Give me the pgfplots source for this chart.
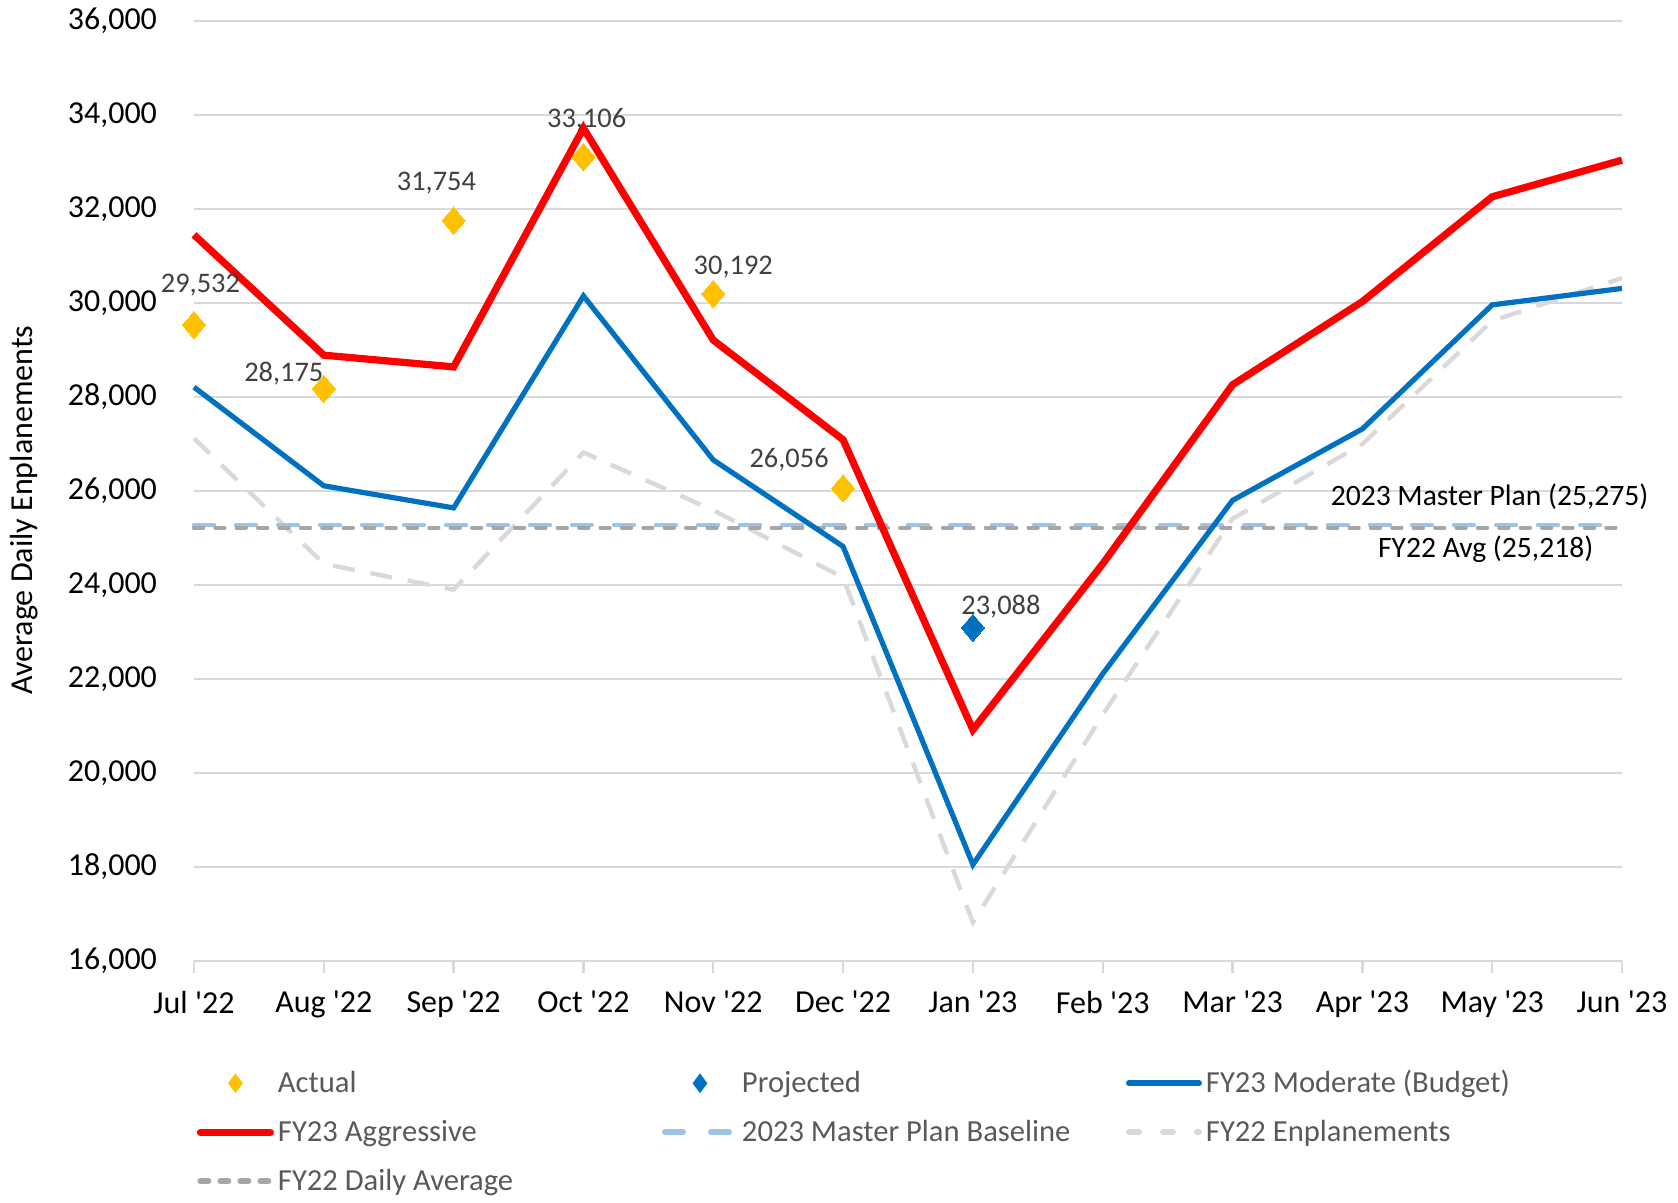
\documentclass[border=0pt]{standalone}
\usepackage{pgfplots}
\pgfplotsset{compat=1.18}
\usepackage{fontspec}
\setmainfont{Carlito}
\definecolor{cRed}{HTML}{FF0000}
\definecolor{cBlue}{HTML}{0070C0}
\definecolor{cYellow}{HTML}{FFC000}
\definecolor{cLBlue}{HTML}{9DC3E6}
\definecolor{cGray}{HTML}{A6A6A6}
\definecolor{cLGray}{HTML}{D9D9D9}
\definecolor{cGrid}{HTML}{D9D9D9}
\definecolor{cLab}{HTML}{404040}
\definecolor{cLeg}{HTML}{595959}
\newcommand{\q}{\textquotesingle}
\newcommand{\lentry}[1]{\makebox[190pt][l]{#1}}
\pgfplotstableread{
x red blue fy
0 31450 28210 27120
1 28890 26110 24450
2 28640 25640 23900
3 33720 30150 26820
4 29210 26660 25590
5 27090 24820 24160
6 20920 18050 16820
7 24450 22110 21240
8 28260 25800 25410
9 30030 27320 27000
10 32260 29960 29620
11 33040 30310 30530
}\series
\pgfplotstableread{
x y
0 29532
1 28175
2 31754
3 33106
4 30192
5 26056
}\actual
\pgfplotstableread{
x y
6 23088
}\projected
\pgfplotstableread{
x mp avg
0 25275 25218
11 25275 25218
}\flat
\begin{document}
\begin{tikzpicture}
\useasboundingbox (-97pt,-121pt) rectangle (742pt,480.5pt);
\begin{axis}[
  scale only axis, width=714pt, height=470pt,
  xmin=0, xmax=11, ymin=16000, ymax=36000,
  clip=false,
  axis x line*=bottom, axis y line*=left,
  y axis line style={draw=none},
  x axis line style={draw=cGrid, line width=1.2pt, -},
  ytick={16000,18000,...,36000},
  ytick style={draw=none},
  xtick={0,...,11},
  xtick style={draw=cGrid, line width=1.2pt},
  tick align=outside,
  major tick length=6pt,
  xticklabels={Jul \q22, Aug \q22, Sep \q22, Oct \q22, Nov \q22, Dec \q22, Jan \q23, Feb \q23, Mar \q23, Apr \q23, May \q23, Jun \q23},
  ymajorgrids,
  grid style={draw=cGrid, line width=0.9pt},
  /pgf/number format/assume math mode=true,
  /pgf/number format/.cd, 1000 sep={,}, /pgfplots/.cd,
  scaled y ticks=false,
  tick label style={font=\fontsize{16}{19}\selectfont, text=black},
  yticklabel style={xshift=-9pt},
  xticklabel style={yshift=-5.5pt},
  ylabel={Average Daily Enplanements},
  every axis y label/.style={at={([xshift=-85pt,yshift=-9.6pt]axis description cs:0,0.5)}, rotate=90, anchor=center, font=\fontsize{16}{19}\selectfont, text=black},
  legend columns=3,
  legend cell align=left,
  legend style={at={(axis description cs:0,0)}, anchor=north west, xshift=-1.8pt, yshift=-50.6pt,
    draw=none, fill=none, font=\fontsize{15.3}{18}\selectfont, text=cLeg, row sep=8.2pt,
    /tikz/every even column/.append style={column sep=0pt}},
  legend image code/.code={\draw[#1] (0pt,0pt) -- (35pt,0pt);},
]
% draw order
\addplot[forget plot, cLGray, line width=2.2pt, dash pattern=on 11pt off 8pt] table[x=x,y=fy]{\series};
\addplot[forget plot, cLBlue, line width=2.2pt, line cap=round, dash pattern=on 10pt off 11pt] table[x=x,y=mp]{\flat};
\addplot[forget plot, cGray, line width=2.2pt, line cap=round, dash pattern=on 4.5pt off 6.2pt] table[x=x,y=avg]{\flat};
\addplot[forget plot, cBlue, line width=2.6pt] table[x=x,y=blue]{\series};
\addplot[forget plot, cRed, line width=3.6pt] table[x=x,y=red]{\series};
\addplot[forget plot, only marks, mark=diamond*, mark size=6.8pt, mark options={fill=cYellow, draw=cYellow, line width=0pt, xscale=1.13}] table[x=x,y=y]{\actual};
\addplot[forget plot, only marks, mark=diamond*, mark size=6.8pt, mark options={fill=cBlue, draw=cBlue, line width=0pt, xscale=1.13}] table[x=x,y=y]{\projected};
% legend
\addlegendimage{legend image code/.code={\draw[cYellow, fill=cYellow] plot[mark=diamond*, mark size=4.6pt, only marks] coordinates {(17.5pt,0pt)};}}
\addlegendentry{\lentry{Actual}}
\addlegendimage{legend image code/.code={\draw[cBlue, fill=cBlue] plot[mark=diamond*, mark size=4.6pt, only marks] coordinates {(17.5pt,0pt)};}}
\addlegendentry{\lentry{Projected}}
\addlegendimage{cBlue, line width=3pt, line cap=round}
\addlegendentry{FY23 Moderate (Budget)}
\addlegendimage{cRed, line width=3.6pt, line cap=round}
\addlegendentry{\lentry{FY23 Aggressive}}
\addlegendimage{cLBlue, line width=3pt, line cap=round, dash pattern=on 9pt off 14pt}
\addlegendentry{\lentry{2023 Master Plan Baseline}}
\addlegendimage{cLGray, line width=3pt, line cap=round, dash pattern=on 5pt off 12pt}
\addlegendentry{FY22 Enplanements}
\addlegendimage{cGray, line width=3pt, line cap=round, dash pattern=on 4pt off 6pt}
\addlegendentry{\lentry{FY22 Daily Average}}
% data labels
\begin{scope}[every node/.style={font=\fontsize{14.2}{17}\selectfont, text=cLab}]
\node at (axis cs:0,29532) [xshift=3.2pt, yshift=20pt] {29,532};
\node at (axis cs:1,28175) [xshift=-20pt, yshift=7.5pt] {28,175};
\node at (axis cs:2,31754) [xshift=-8.6pt, yshift=18.5pt] {31,754};
\node at (axis cs:3,33106) [xshift=1.6pt, yshift=18.5pt] {33,106};
\node at (axis cs:4,30192) [xshift=10pt, yshift=13.5pt] {30,192};
\node at (axis cs:5,26056) [xshift=-27pt, yshift=14.5pt] {26,056};
\node at (axis cs:6,23088) [xshift=14pt, yshift=10.5pt] {23,088};
\end{scope}
\node[font=\fontsize{14.8}{18}\selectfont, text=black] at (axis cs:9.98,25886) {2023 Master Plan (25,275)};
\node[font=\fontsize{14.8}{18}\selectfont, text=black] at (axis cs:9.95,24770) {FY22 Avg (25,218)};
\end{axis}
\end{tikzpicture}
\end{document}
